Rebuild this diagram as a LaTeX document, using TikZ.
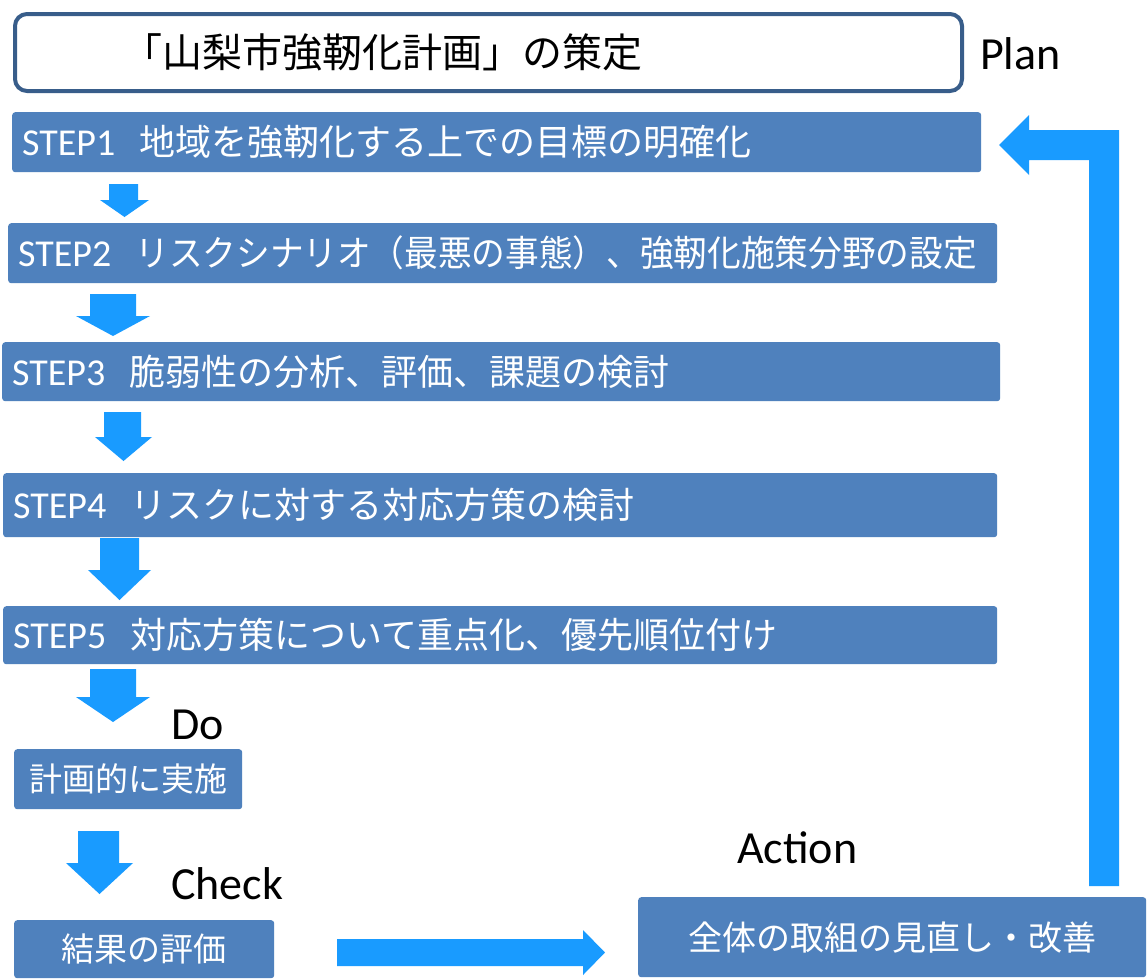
\documentclass[tikz,border=0pt]{standalone}
\usepackage{fontspec}
\setmainfont{Carlito}
\newfontfamily\jp{Noto Sans CJK JP}
\definecolor{boxblue}{HTML}{4F81BD}
\definecolor{arrowblue}{HTML}{199BFF}
\definecolor{titleborder}{HTML}{385D8A}
\newcommand\dnarrow[7]{% shaft left, shaft right, top, head left, head right, head start, tip
  \fill[arrowblue] (#1,#3) -- (#2,#3) -- (#2,#6) -- (#5,#6) -- ({(#4+#5)/2},#7) -- (#4,#6) -- (#1,#6) -- cycle;}
\newcommand\steplabel[1]{{\fontsize{38}{40}\selectfont STEP#1}\hspace{24pt}}
\begin{document}
\begin{tikzpicture}[x=1pt,y=-1pt,
  stepbox/.style={fill=boxblue, rounded corners=3pt, text=white, anchor=north west, inner xsep=10pt, inner ysep=0pt, align=left, font=\fontsize{36}{40}\selectfont},
  subbox/.style={fill=boxblue, rounded corners=3pt, text=white, anchor=north west, inner sep=0pt, align=center, font=\jp\fontsize{33}{38}\selectfont},
  pdca/.style={anchor=base west, inner sep=0pt, font=\fontsize{46}{50}\selectfont}]
\useasboundingbox[fill=white] (0,0) rectangle (1147,978);

% title
\node[draw=titleborder, line width=4pt, rounded corners=12pt, fill=white, anchor=north west, minimum width=947pt, minimum height=77pt, inner sep=0pt] (title) at (13,12) {};
\node[anchor=west, inner sep=0pt, font=\jp\fontsize{40}{44}\selectfont] (titletext) at (122,52) {「山梨市強靭化計画」の策定};
\node[pdca] (plan) at (980,69) {Plan};

% steps
\node[stepbox, text width=949pt, minimum height=60pt] (s1) at (12,112) {\steplabel{1}{\jp 地域を強靭化する上での目標の明確化}};
\node[stepbox, text width=969pt, minimum height=60pt] (s2) at (8,223) {\steplabel{2}\scalebox{0.935}[1]{\jp リスクシナリオ（最悪の事態）、強靭化施策分野の設定}};
\node[stepbox, text width=978pt, minimum height=59pt] (s3) at (2,342) {\steplabel{3}{\jp 脆弱性の分析、評価、課題の検討}};
\node[stepbox, text width=974pt, minimum height=64pt] (s4) at (3,473) {\steplabel{4}{\jp リスクに対する対応方策の検討}};
\node[stepbox, text width=974pt, minimum height=58pt] (s5) at (3,606) {\steplabel{5}{\jp 対応方策について重点化、優先順位付け}};

% down arrows
\dnarrow{109}{138}{184}{100}{149}{200}{217}
\dnarrow{90}{136}{294}{76}{150}{316}{336}
\dnarrow{104}{141}{412}{95}{152}{437}{461}
\dnarrow{100}{139}{538}{88}{151}{570}{600}
\dnarrow{90}{136}{669}{76}{150}{697}{722}
\dnarrow{78}{119}{831}{66}{133}{863}{894}

\node[pdca] (do) at (171,739) {Do};
\node[subbox, minimum width=228pt, minimum height=60pt] (doit) at (14,749) {計画的に実施};
\node[pdca] (check) at (171,899) {Check};
\node[subbox, minimum width=260pt, minimum height=58pt] (eval) at (14,920) {結果の評価};
\node[pdca] (action) at (737,863) {Action};
\node[subbox, minimum width=508pt, minimum height=80pt, font=\jp\fontsize{34}{38}\selectfont] (review) at (638,897) {全体の取組の見直し・改善};

% right arrow
\fill[arrowblue] (337,939) -- (583,939) -- (583,930) -- (605,952.5) -- (583,975) -- (583,966) -- (337,966) -- cycle;

% return arrow
\fill[arrowblue] (1089,886) -- (1089,160) -- (1029,160) -- (1029,175) -- (999,145) -- (1029,115) -- (1029,130) -- (1119,130) -- (1119,886) -- cycle;
\end{tikzpicture}
\end{document}
